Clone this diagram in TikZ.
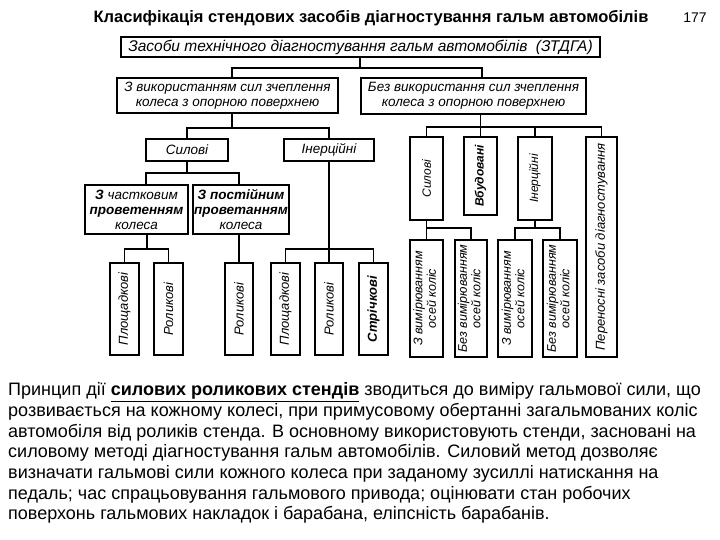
\documentclass[tikz,border=0pt]{standalone}
\usepackage{fontspec}
\usepackage{graphicx}
\setmainfont{Liberation Sans}
\usetikzlibrary{calc}
\begin{document}
\begin{tikzpicture}[x=1pt,y=-1pt,
  box/.style={draw, line width=1.4pt, inner sep=1pt, align=center,
    font=\fontsize{13.5}{15}\selectfont\itshape},
  vbox/.style={draw, line width=1.4pt, inner sep=0pt, align=center,
    font=\fontsize{12}{13}\selectfont\itshape},
  leaf/.style={vbox, minimum height=92, font=\fontsize{13}{14}\selectfont\itshape},
  meas/.style={vbox, minimum height=117, font=\fontsize{12.5}{13.5}\selectfont\itshape},
  conn/.style={line width=1.3pt},
  bodyline/.style={anchor=base west, inner sep=0pt, font=\fontsize{18}{20.7}\selectfont},
]
\useasboundingbox[fill=white] (0,0) rectangle (720,540);

\node[font=\fontsize{16.5}{19}\selectfont\bfseries] (title) at (371,18)
  {Класифікація стендових засобів діагностування гальм автомобілів};
\node[font=\fontsize{14}{16}\selectfont] (pg) at (695,18) {177};

\node[box, minimum width=479, minimum height=20, inner sep=0pt, font=\fontsize{15.5}{16}\selectfont\itshape] (top) at (360.5,47)
  {Засоби технічного діагностування гальм автомобілів~~(ЗТДГА)};

\node[box, minimum width=221, minimum height=35] (L2a) at (227.5,95.5)
  {З використанням сил зчеплення\\колеса з опорною поверхнею};
\node[box, minimum width=225, minimum height=36] (L2b) at (473.5,96)
  {Без використання сил зчеплення\\колеса з опорною поверхнею};

\node[box, minimum width=82, minimum height=22] (sil) at (187,150) {Силові};
\node[box, minimum width=90, minimum height=22] (iner) at (329,150) {Інерційні};

\node[box, minimum width=103, minimum height=49] (subA) at (136.5,209.5)
  {\textbf{З} частковим\\\textbf{проветенням}\\колеса};
\node[box, minimum width=90, minimum height=49] (subB) at (241,209.5)
  {\textbf{З постійним}\\\textbf{проветанням}\\колеса};

\node[leaf, minimum width=29] (pl1) at (124.5,309) {\rotatebox{90}{Площадкові}};
\node[leaf, minimum width=29] (rl1) at (168.5,309) {\rotatebox{90}{Роликові}};
\node[leaf, minimum width=28] (rl2) at (239,309) {\rotatebox{90}{Роликові}};
\node[leaf, minimum width=29] (pl2) at (285.5,309) {\rotatebox{90}{Площадкові}};
\node[leaf, minimum width=28] (rl3) at (329,309) {\rotatebox{90}{Роликові}};
\node[leaf, minimum width=29] (st) at (373.5,309) {\rotatebox{90}{\bfseries Стрічкові}};

\node[vbox, minimum width=33, minimum height=83] (sil2) at (426.5,178.5) {\rotatebox{90}{Силові}};
\node[vbox, minimum width=33, minimum height=78] (bud) at (480.5,176) {\rotatebox{90}{\bfseries Вбудовані}};
\node[vbox, minimum width=34, minimum height=83] (in2) at (535,178.5) {\rotatebox{90}{Інерційні}};
\node[vbox, minimum width=31, minimum height=220, font=\fontsize{13}{14}\selectfont\itshape] (per) at (601.5,247)
  {\rotatebox{90}{Переносні засоби діагностування}};

\node[meas, minimum width=33] (z1) at (426.5,298.5)
  {\rotatebox{90}{\begin{tabular}{@{}c@{}}З вимірюванням\\осей коліс\end{tabular}}};
\node[meas, minimum width=32] (b1) at (471,298.5)
  {\rotatebox{90}{\begin{tabular}{@{}c@{}}Без вимірюванням\\осей коліс\end{tabular}}};
\node[meas, minimum width=34] (z2) at (515,298.5)
  {\rotatebox{90}{\begin{tabular}{@{}c@{}}З вимірюванням\\осей коліс\end{tabular}}};
\node[meas, minimum width=34] (b2) at (560,298.5)
  {\rotatebox{90}{\begin{tabular}{@{}c@{}}Без вимірюванням\\осей коліс\end{tabular}}};

% connectors
\coordinate (j0) at (360,68);
\coordinate (j0a) at (232,68);
\coordinate (j0b) at (482,68);
\draw[conn] (top.south -| j0) -- (j0);
\draw[conn] (L2a.north -| j0a) |- (j0) -| (L2b.north -| j0b);

\coordinate (j1) at (232,128);
\draw[conn] (L2a.south -| j1) -- (j1);
\draw[conn] (sil.north) |- (j1) -| (iner.north);

\coordinate (j2) at (187,173);
\coordinate (j2a) at (146,173);
\coordinate (j2b) at (239,173);
\draw[conn] (sil.south) -- (j2);
\draw[conn] (subA.north -| j2a) |- (j2) -| (subB.north -| j2b);

\coordinate (j3) at (147,249);
\draw[conn] (subA.south -| j3) -- (j3);
\draw[conn] (pl1.north) |- (j3) -| (rl1.north);
\draw[conn] (subB.south -| rl2.north) -- (rl2.north);

\coordinate (j4) at (329,249);
\draw[conn] (iner.south) -- (rl3.north);
\draw[conn] (pl2.north) |- (j4) -| (st.north);

\coordinate (j5) at (480.5,127);
\draw[conn] (L2b.south -| bud.north) -- (bud.north);
\draw[conn] (sil2.north) |- (j5) -| (per.north);
\draw[conn] (in2.north) -- (in2.north |- j5);

\coordinate (j6) at (426.5,228);
\draw[conn] (sil2.south) -- (z1.north);
\draw[conn] (z1.north |- j6) -| (b1.north);

\coordinate (j7) at (535,228);
\draw[conn] (in2.south) -- (j7);
\draw[conn] (z2.north) |- (j7) -| (b2.north);

% body text
\node[bodyline] (t1) at (8,395.6)
  {Принцип дії \underline{\textbf{силових роликових стендів}} зводиться до виміру гальмової сили, що};
\node[bodyline] (t2) at (8,416.3)
  {розвивається на кожному колесі, при примусовому обертанні загальмованих коліс};
\node[bodyline] (t3) at (8,437)
  {автомобіля від роликів стенда. В основному використовують стенди, засновані на};
\node[bodyline] (t4) at (8,457.7)
  {силовому методі діагностування гальм автомобілів. Силовий метод дозволяє};
\node[bodyline] (t5) at (8,478.4)
  {визначати гальмові сили кожного колеса при заданому зусиллі натискання на};
\node[bodyline] (t6) at (8,499.1)
  {педаль; час спрацьовування гальмового привода; оцінювати стан робочих};
\node[bodyline] (t7) at (8,519.8)
  {поверхонь гальмових накладок і барабана, еліпсність барабанів.};
\end{tikzpicture}
\end{document}
